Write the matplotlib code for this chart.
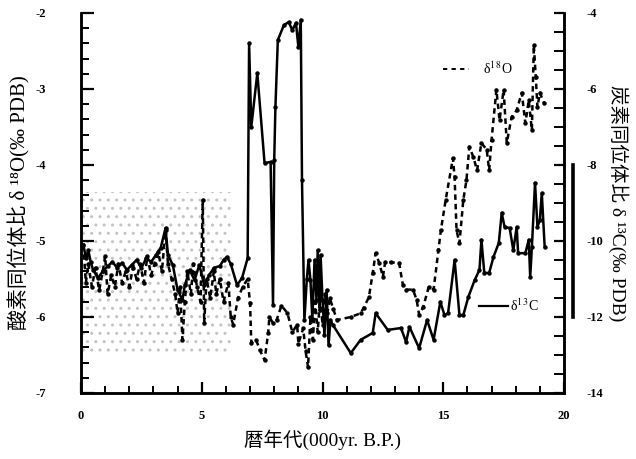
import numpy as np
import matplotlib
matplotlib.use('Agg')
import matplotlib.pyplot as plt
from matplotlib.patches import Rectangle
from matplotlib.ticker import MultipleLocator
import matplotlib.transforms as mtransforms

plt.rcParams['font.family'] = ['Liberation Serif', 'Noto Sans CJK JP', 'DejaVu Sans']
plt.rcParams['axes.unicode_minus'] = False
plt.rcParams['mathtext.fontset'] = 'stix'

# delta 18O (left axis, dashed)
o18_age = [0.1, 0.2, 0.3, 0.45, 0.6, 0.75, 0.9, 1.0, 1.1, 1.25, 1.4, 1.55, 1.7, 1.85,
           2.0, 2.15, 2.3, 2.45, 2.6, 2.75, 2.9, 3.05, 3.2, 3.35, 3.5, 3.6, 3.75, 3.9,
           4.0, 4.1, 4.2, 4.3, 4.4, 4.55, 4.65, 4.8, 4.95, 5.04, 5.1, 5.2, 5.35, 5.5,
           5.6, 5.75, 5.9, 6.1, 6.2, 6.3, 6.5, 6.7, 6.9, 7.0, 7.05, 7.25, 7.4, 7.6,
           7.75, 7.8, 7.95, 8.1, 8.3, 8.55, 8.75, 8.95, 9.0, 9.2, 9.3, 9.4, 9.5, 9.6,
           9.7, 9.8, 9.9, 10.0, 10.1, 10.2, 10.3, 10.45, 10.6, 11.17, 11.58, 11.7,
           11.92, 12.08, 12.2, 12.35, 12.5, 12.6, 12.83, 13.17, 13.33, 13.46, 13.75,
           13.9, 14.0, 14.17, 14.4, 14.6, 14.8, 14.9, 15.1, 15.4, 15.47, 15.55, 15.67,
           15.83, 15.96, 16.08, 16.25, 16.4, 16.58, 16.8, 16.9, 17.0, 17.2, 17.33,
           17.5, 17.63, 17.83, 18.04, 18.25, 18.4, 18.54, 18.67, 18.75, 18.83, 18.9,
           19.0, 19.17]
o18_val = [-5.05, -5.55, -5.3, -5.6, -5.35, -5.65, -5.4, -5.2, -5.7, -5.45, -5.6, -5.3,
           -5.55, -5.4, -5.6, -5.35, -5.5, -5.3, -5.55, -5.2, -5.45, -5.3, -5.15, -5.4,
           -4.85, -5.3, -5.5, -5.7, -5.95, -5.6, -6.3, -5.8, -5.4, -5.7, -5.3, -5.6,
           -5.8, -4.46, -6.08, -5.5, -5.75, -5.4, -5.7, -5.5, -5.8, -5.55, -6.0, -6.1,
           -5.75, -5.6, -5.5, -5.82, -6.34, -6.3, -6.43, -6.57, -6.21, -6.0, -6.08,
           -6.04, -5.85, -5.95, -6.2, -6.1, -6.35, -6.15, -6.45, -6.66, -6.0, -6.3,
           -5.8, -6.2, -5.75, -6.1, -5.7, -5.95, -5.75, -5.9, -6.04, -6.0, -5.95,
           -5.88, -5.74, -5.42, -5.16, -5.29, -5.47, -5.27, -5.28, -5.29, -5.58,
           -5.64, -5.64, -5.78, -5.97, -5.87, -5.6, -5.64, -5.12, -4.86, -4.46, -3.91,
           -4.16, -4.86, -5.03, -4.46, -4.2, -3.76, -3.9, -4.07, -3.71, -3.8, -4.07,
           -3.67, -3.01, -3.41, -3.01, -3.71, -3.37, -3.28, -3.05, -3.45, -3.15, -3.54,
           -2.42, -2.84, -3.24, -3.05, -3.18]

# delta 13C (right axis, solid)
c13_age = [0.1, 0.2, 0.3, 0.4, 0.5, 0.7, 0.9, 1.1, 1.3, 1.5, 1.7, 1.9, 2.1, 2.3, 2.5,
           2.7, 2.9, 3.1, 3.3, 3.5, 3.6, 3.8, 4.0, 4.2, 4.3, 4.5, 4.7, 4.9, 5.1, 5.3,
           5.5, 5.75, 5.9, 6.04, 6.2, 6.46, 6.67, 6.9, 6.96, 7.05, 7.3, 7.6, 7.85,
           7.95, 8.0, 8.05, 8.15, 8.4, 8.6, 8.75, 8.9, 9.0, 9.1, 9.15, 9.25, 9.35,
           9.42, 9.5, 9.58, 9.67, 9.75, 9.8, 9.88, 9.92, 10.0, 10.08, 10.17, 10.25,
           10.33, 10.42, 11.17, 11.58, 12.08, 12.2, 12.7, 13.25, 13.46, 13.6, 14.0,
           14.33, 14.6, 14.88, 15.05, 15.2, 15.47, 15.67, 15.83, 16.04, 16.3, 16.5,
           16.58, 16.7, 16.9, 17.08, 17.3, 17.42, 17.54, 17.75, 17.9, 18.04, 18.1,
           18.4, 18.54, 18.6, 18.67, 18.8, 18.9, 19.0, 19.08, 19.2]
c13_val = [-10.1, -10.45, -10.24, -10.55, -10.76, -10.97, -10.8, -10.66, -10.55, -10.71,
           -10.58, -10.76, -10.63, -10.5, -10.71, -10.45, -10.55, -10.37, -10.18, -9.66,
           -10.37, -10.63, -11.29, -11.55, -11.16, -10.76, -11.03, -10.63, -11.16,
           -10.9, -10.71, -10.66, -10.5, -10.42, -10.6, -11.16, -10.97, -10.45, -4.79,
           -7.0, -5.58, -7.95, -7.92, -11.68, -7.87, -6.47, -4.71, -4.32, -4.24, -4.45,
           -4.26, -4.89, -4.18, -8.39, -12.08, -11.0, -10.5, -11.03, -12.08, -10.5,
           -11.55, -10.24, -11.82, -10.37, -11.55, -12.47, -11.29, -12.74, -12.08,
           -12.2, -12.95, -12.6, -12.42, -11.9, -12.34, -12.29, -12.66, -12.26, -12.82,
           -12.08, -12.6, -11.6, -11.95, -11.9, -10.5, -11.95, -11.95, -11.47, -11.03,
           -10.76, -9.97, -10.84, -10.84, -10.42, -10.05, -9.26, -9.63, -9.66, -10.24,
           -9.63, -10.32, -10.32, -9.97, -10.95, -10.16, -8.47, -9.63, -9.45, -8.74,
           -10.16]

fig = plt.figure(figsize=(6.36, 4.59), dpi=100)
ax = fig.add_axes([0.1274, 0.1438, 0.7594, 0.8279])
ax2 = ax.twinx()

# stippled band
ax.add_patch(Rectangle((0, -6.46), 6.25, 2.1, facecolor='none', edgecolor='#c4c4c4',
                       hatch='..', linewidth=0, zorder=0))

ax.plot(o18_age, o18_val, color='black', lw=1.8, ls=(0, (2.2, 1.6)),
        marker='o', ms=2.2, zorder=3)
ax2.plot(c13_age, c13_val, color='black', lw=1.8, marker='o', ms=2.2, zorder=3)

ax.set_xlim(0, 20)
ax.set_ylim(-7, -2)
ax2.set_ylim(-14, -4)

for a in (ax, ax2):
    a.spines['top'].set_visible(False)
    for s in a.spines.values():
        s.set_linewidth(1.8)

ax.xaxis.set_major_locator(MultipleLocator(5))
ax.xaxis.set_minor_locator(MultipleLocator(1))
ax.yaxis.set_major_locator(MultipleLocator(1))
ax.yaxis.set_minor_locator(MultipleLocator(0.2))
ax2.yaxis.set_major_locator(MultipleLocator(2))
ax2.yaxis.set_minor_locator(MultipleLocator(0.5))

ax.tick_params(axis='x', which='major', direction='in', length=8, width=1.6, pad=12)
ax.tick_params(axis='x', which='minor', direction='in', length=5, width=1.4)
ax.tick_params(axis='y', which='major', direction='in', length=9, width=1.6, pad=25)
ax.tick_params(axis='y', which='minor', direction='in', length=6, width=1.4)
ax2.tick_params(axis='y', which='major', direction='in', length=7, width=1.6, pad=16)
ax2.tick_params(axis='y', which='minor', direction='in', length=7, width=1.4)

for lab in ax.get_xticklabels() + ax.get_yticklabels() + ax2.get_yticklabels():
    lab.set_fontweight('bold')
    lab.set_fontsize(9)

ax.set_xlabel('暦年代(000yr. B.P.)', fontsize=14, labelpad=6)
ax.set_ylabel('酸素同位体比 δ ¹⁸O(‰ PDB)', fontsize=15, labelpad=4)
ax2.set_ylabel('炭素同位体比 δ ¹³C(‰ PDB)', fontsize=14, rotation=-90, labelpad=18)

# legend marks
ax.plot([15.0, 16.05], [-2.74, -2.74], color='black', lw=1.4, ls=(0, (2.2, 2.2)))
ax.text(16.65, -2.74, 'δ$^{1\\,8}$O', fontsize=10, va='center')
ax2.plot([16.5, 17.7], [-11.7, -11.7], color='black', lw=1.6)
ax2.text(17.75, -11.7, 'δ$^{1\\,3}$C', fontsize=10, va='center')

# vertical bar right of the axis
trans = mtransforms.blended_transform_factory(ax2.transAxes, ax2.transData)
ax2.plot([1.019, 1.019], [-8, -12], color='black', lw=2.6, transform=trans,
         clip_on=False)

fig.savefig('out.png', dpi=100)
